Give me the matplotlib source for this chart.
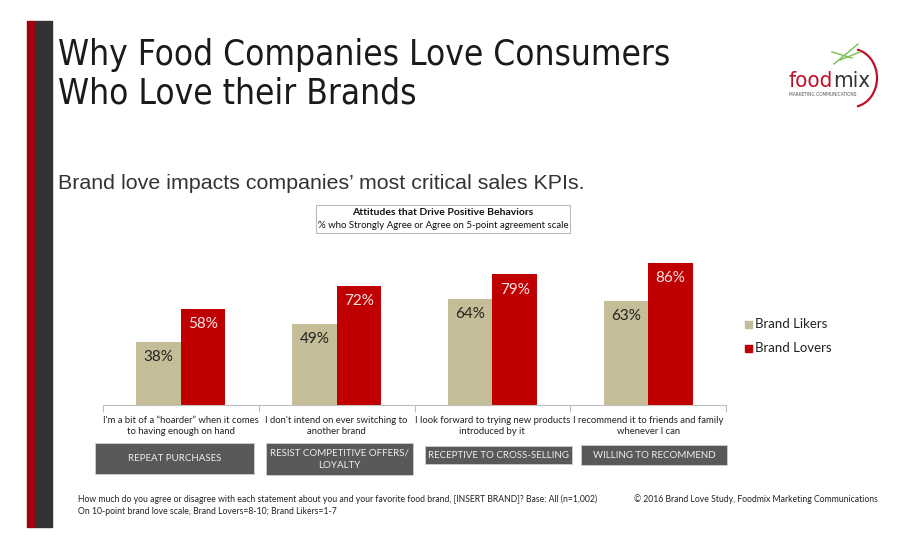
import matplotlib
matplotlib.use("Agg")
import matplotlib.pyplot as plt
from matplotlib.patches import Rectangle, Arc
import numpy as np

# ---- data ----
statements = [
    "I'm a bit of a \u201choarder\u201d when it comes\nto having enough on hand",
    "I don't intend on ever switching to\nanother brand",
    "I look forward to trying new products\nintroduced by it",
    "I recommend it to friends and family\nwhenever I can",
]
kpis = ["REPEAT PURCHASES", "RESIST COMPETITIVE OFFERS/\nLOYALTY",
        "RECEPTIVE TO CROSS-SELLING", "WILLING TO RECOMMEND"]
series_names = ["Brand Likers", "Brand Lovers"]
likers = [38, 49, 64, 63]
lovers = [58, 72, 79, 86]

W, H = 900, 550
fig = plt.figure(figsize=(9, 5.5), dpi=100)
fig.patch.set_facecolor("white")

def fx(x): return x / W
def fy(y): return 1 - y / H

NARROW = ["DejaVu Sans"]
SANS = ["Liberation Sans", "DejaVu Sans"]
BODY = ["Lato", "DejaVu Sans"]

# left stripes
fig.patches.append(Rectangle((fx(27), fy(527)), fx(8), (527 - 21) / H,
                             transform=fig.transFigure, color="#A50010", zorder=1))
fig.patches.append(Rectangle((fx(35), fy(527)), fx(17), (527 - 21) / H,
                             transform=fig.transFigure, color="#333333", zorder=1))

# title
fig.text(fx(58), fy(65), "Why Food Companies Love Consumers", family=NARROW,
         fontstretch="condensed", fontsize=25.2, color="#1a1a1a", va="baseline", ha="left")
fig.text(fx(58), fy(104), "Who Love their Brands", family=NARROW,
         fontstretch="condensed", fontsize=25.2, color="#1a1a1a", va="baseline", ha="left")
fig.text(fx(58), fy(189), "Brand love impacts companies\u2019 most critical sales KPIs.",
         family=SANS, fontsize=15.4, color="#333333", va="baseline", ha="left")

# logo
fig.text(fx(833), fy(87), "food", family=NARROW, fontstretch="condensed", fontsize=16,
         color="#C0102A", va="baseline", ha="right")
fig.text(fx(833), fy(87), "mix", family=NARROW, fontstretch="condensed", fontsize=16,
         color="#333333", va="baseline", ha="left")
fig.text(fx(823), fy(94), "MARKETING COMMUNICATIONS", family=NARROW,
         fontstretch="condensed", fontsize=3.5,
         color="#555555", va="center", ha="center")
logo_ax = fig.add_axes([fx(800), fy(110), fx(85), (110 - 40) / H])
logo_ax.set_xlim(800, 885); logo_ax.set_ylim(110, 40); logo_ax.axis("off")
logo_ax.add_patch(Arc((852, 78), 50, 58, theta1=-80, theta2=80, color="#C0102A", lw=1.6))
logo_ax.plot([834, 858], [64, 44], color="#7DBE4E", lw=1)
logo_ax.plot([832, 852], [52, 58], color="#7DBE4E", lw=1)
logo_ax.plot([840, 860], [60, 52], color="#7DBE4E", lw=1)

# chart title box
fig.patches.append(Rectangle((fx(316), fy(233)), fx(570 - 316), (233 - 205) / H,
                             transform=fig.transFigure, facecolor="white",
                             edgecolor="#BBBBBB", lw=0.8, zorder=1))
fig.text(fx(443), fy(213), "Attitudes that Drive Positive Behaviors", family=BODY,
         fontsize=7.5, fontweight="bold", color="#111111", ha="center", va="center")
fig.text(fx(443), fy(226), "% who Strongly Agree or Agree on 5-point agreement scale",
         family=BODY, fontsize=6.9, color="#111111", ha="center", va="center")

# bar axes
x0, x1 = 103, 726
ybase, ytop = 405, 405 - 165.5
ax = fig.add_axes([fx(x0), fy(ybase), fx(x1 - x0), (ybase - ytop) / H])
ax.set_xlim(-0.5, 3.5)
ax.set_ylim(0, 100)
n = np.arange(len(likers))
bw = 0.285
c_lik, c_lov = "#C4BD97", "#C00000"
b1 = ax.bar(n - bw / 2, likers, bw, color=c_lik, label=series_names[0])
b2 = ax.bar(n + bw / 2, lovers, bw, color=c_lov, label=series_names[1])
for rect, v in zip(b1, likers):
    ax.annotate(f"{v}%", (rect.get_x() + rect.get_width() / 2, v), xytext=(0, -11),
                textcoords="offset points", ha="center", va="center",
                family=BODY, fontsize=11, color="#222222")
for rect, v in zip(b2, lovers):
    ax.annotate(f"{v}%", (rect.get_x() + rect.get_width() / 2, v), xytext=(0, -11),
                textcoords="offset points", ha="center", va="center",
                family=BODY, fontsize=11, color="#FBE6E6")
for s in ["top", "right", "left"]:
    ax.spines[s].set_visible(False)
ax.spines["bottom"].set_color("#BFBFBF")
ax.set_yticks([])
ax.set_xticks([-0.5, 0.5, 1.5, 2.5, 3.5])
ax.set_xticklabels([])
ax.tick_params(axis="x", length=5, color="#BFBFBF", direction="out")
ax.patch.set_alpha(0)

# category statements
centers_px = [x0 + (x1 - x0) * (i + 0.5) / 4 for i in range(4)]
for cx, s in zip(centers_px, statements):
    fig.text(fx(cx), fy(426), s, family=BODY, fontsize=6.8, color="#222222",
             ha="center", va="center", linespacing=1.25)

# KPI boxes
boxes = [(95, 254, 443, 474), (266, 413, 443, 475), (425, 572, 446, 464), (581, 727, 445, 465)]
for (l, r, t, b), k in zip(boxes, kpis):
    fig.patches.append(Rectangle((fx(l), fy(b)), fx(r - l), (b - t) / H,
                                 transform=fig.transFigure, facecolor="#595959",
                                 edgecolor="#D0D0D0", lw=0.6, zorder=1))
    fig.text(fx((l + r) / 2), fy((t + b) / 2), k, family=BODY, fontsize=7,
             color="#EEEEEE", ha="center", va="center", linespacing=1.5)

# legend
for yy, col, name in [(324, c_lik, series_names[0]), (348, c_lov, series_names[1])]:
    fig.patches.append(Rectangle((fx(745), fy(yy + 3.5)), fx(7), 7 / H,
                                 transform=fig.transFigure, color=col))
    fig.text(fx(755), fy(yy), name, family=BODY, fontsize=9.5, color="#222222",
             ha="left", va="center")

# footnotes
fig.text(fx(78), fy(499), "How much do you agree or disagree with each statement about you and your favorite food brand, [INSERT BRAND]? Base: All (n=1,002)",
         family=BODY, fontsize=6.2, color="#222222", ha="left", va="center")
fig.text(fx(78), fy(512), "On 10-point brand love scale, Brand Lovers=8-10; Brand Likers=1-7",
         family=BODY, fontsize=6.2, color="#222222", ha="left", va="center")
fig.text(fx(878), fy(499), "\u00a9 2016 Brand Love Study, Foodmix Marketing Communications",
         family=BODY, fontsize=6.2, color="#222222", ha="right", va="center")

fig.savefig("out.png", dpi=100, facecolor="white")
